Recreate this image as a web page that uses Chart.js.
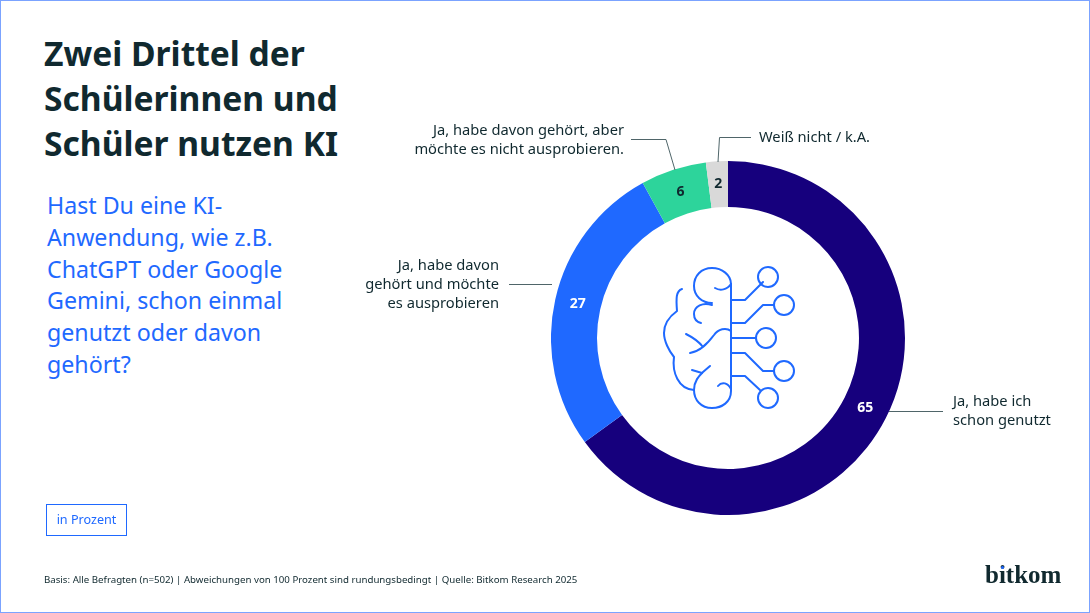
<!DOCTYPE html>
<html lang="de">
<head>
<meta charset="utf-8">
<title>Zwei Drittel der Schülerinnen und Schüler nutzen KI</title>
<script src="https://cdn.jsdelivr.net/npm/chart.js@4"></script>
<style>
html, body { margin: 0; padding: 0; background: #fff; }
body { position: relative; width: 1090px; height: 613px; overflow: hidden; font-family: "Noto Sans", sans-serif; color: #10292f; }
#frame { position: absolute; left: 0; top: 0; width: 1088px; height: 611px; border: 1px solid #7ba3ff; }
#chart-wrap { position: absolute; left: 551px; top: 161px; width: 354px; height: 354px; }
h1 { position: absolute; left: 44px; top: 31px; margin: 0; font-size: 33.6px; line-height: 45.2px; font-weight: 700; white-space: nowrap; }
h2 { position: absolute; left: 47px; top: 190px; margin: 0; font-size: 23.2px; line-height: 31.8px; font-weight: 400; color: #1f69ff; white-space: nowrap; }
.lbl { position: absolute; font-size: 14.7px; line-height: 19px; white-space: nowrap; }
.right { text-align: right; }
#unit { position: absolute; left: 46px; top: 504px; width: 79px; height: 30px; border: 1px solid #1f69ff; color: #1f69ff; font-size: 12.6px; line-height: 30px; text-align: center; }
#foot { position: absolute; left: 44px; top: 572px; font-size: 9.7px; line-height: 15px; white-space: nowrap; }
#logo { position: absolute; left: 985px; top: 559px; font-family: "Liberation Serif", serif; font-weight: 700; font-size: 25px; line-height: 32px; }
#logo-dot { position: absolute; left: 1001px; top: 566px; width: 3px; height: 3px; border-radius: 50%; background: #1f69ff; }
svg { position: absolute; left: 0; top: 0; pointer-events: none; }
</style>
</head>
<body>
<div id="frame"></div>
<h1>Zwei Drittel der<br>Schülerinnen und<br>Schüler nutzen KI</h1>
<h2>Hast Du eine KI-<br>Anwendung, wie z.B.<br>ChatGPT oder Google<br>Gemini, schon einmal<br>genutzt oder davon<br>gehört?</h2>

<div id="chart-wrap"><canvas id="donut" width="354" height="354"></canvas></div>

<svg width="1090" height="613" fill="none">
  <!-- leader lines -->
  <g stroke="#4f6569" stroke-width="1">
    <path d="M631 139.500H666L675 170"/>
    <path d="M751 137.500H719.500L718 162"/>
    <path d="M509 284.500H552"/>
    <path d="M889 411.500H943"/>
  </g>
  <!-- brain icon -->
  <g stroke="#1f69ff" stroke-width="2" stroke-linecap="round" stroke-linejoin="round">
    <path d="M731 284V391C731 402 722 408 712 408C701 408 694 400 694 390C694 381 699 376 703 372L710 366"/>
    <path d="M731 284C731 275 722 268 712 268C701 268 694 276 694 286C694 296 702 303 712 303"/>
    <path d="M715 288C720 291 727 290 731 284"/>
    <path d="M712 305C703 302 694 306 694 314C694 319 697 322 701 323"/>
    <path d="M682 289C676 291 676 298 677 311C666 319 664 326 664 333C664 341 669 351 674 357C672 372 678 389 694 390"/>
    <path d="M686 334C694 338 700 343 703 347M690 353C701 351 708 343 714 335C718 329 726 327 731 331"/>
    <path d="M692 370L702 373"/>
    <path d="M718 386C722 381 728 383 731 389"/>
    <path d="M731 300H745L763 282"/>
    <path d="M731 323H745L763 305H774"/>
    <path d="M731 338H756"/>
    <path d="M731 353H745L763 371H774"/>
    <path d="M731 376H745L760 390"/>
    <circle cx="768" cy="277" r="10"/>
    <circle cx="784" cy="305" r="10"/>
    <circle cx="766" cy="338" r="10"/>
    <circle cx="784" cy="371" r="10"/>
    <circle cx="768" cy="398" r="10"/>
  </g>
</svg>

<div class="lbl right" style="right:466px;top:120px">Ja, habe davon gehört, aber<br>möchte es nicht ausprobieren.</div>
<div class="lbl" style="left:759px;top:127px">Weiß nicht / k.A.</div>
<div class="lbl right" style="right:591px;top:255px">Ja, habe davon<br>gehört und möchte<br>es ausprobieren</div>
<div class="lbl" style="left:953px;top:391px">Ja, habe ich<br>schon genutzt</div>

<div id="unit">in Prozent</div>
<div id="foot">Basis: Alle Befragten (n=502) | Abweichungen von 100 Prozent sind rundungsbedingt | Quelle: Bitkom Research 2025</div>
<div id="logo">bitkom</div>
<div id="logo-dot"></div>

<script>
// === DATA ===
const categories = [
    'Ja, habe ich schon genutzt',
    'Ja, habe davon gehört und möchte es ausprobieren',
    'Ja, habe davon gehört, aber möchte es nicht ausprobieren.',
    'Weiß nicht / k.A.'
];
const values = [65, 27, 6, 2];
const sliceColors = ['#16007d', '#1f69ff', '#2dd49b', '#d9d9d9'];
const valueColors = ['#ffffff', '#ffffff', '#10292f', '#10292f'];

// === VALUE LABELS ===
const valueLabels = {
    id: 'valueLabels',
    afterDatasetsDraw(chart) {
        const ctx = chart.ctx;
        ctx.save();
        ctx.font = '700 14px "Noto Sans", sans-serif';
        ctx.textAlign = 'center';
        ctx.textBaseline = 'middle';
        chart.getDatasetMeta(0).data.forEach((arc, i) => {
            const pos = arc.tooltipPosition();
            ctx.fillStyle = valueColors[i];
            ctx.fillText(values[i], pos.x, pos.y);
        });
        ctx.restore();
    }
};

// === CHART ===
new Chart(document.getElementById('donut'), {
    type: 'doughnut',
    data: {
        labels: categories,
        datasets: [{ data: values, backgroundColor: sliceColors, borderWidth: 0 }]
    },
    options: {
        responsive: false,
        animation: false,
        cutout: '74%',
        layout: { padding: 0 },
        plugins: { legend: { display: false }, tooltip: { enabled: false } }
    },
    plugins: [valueLabels]
});
</script>
</body>
</html>
